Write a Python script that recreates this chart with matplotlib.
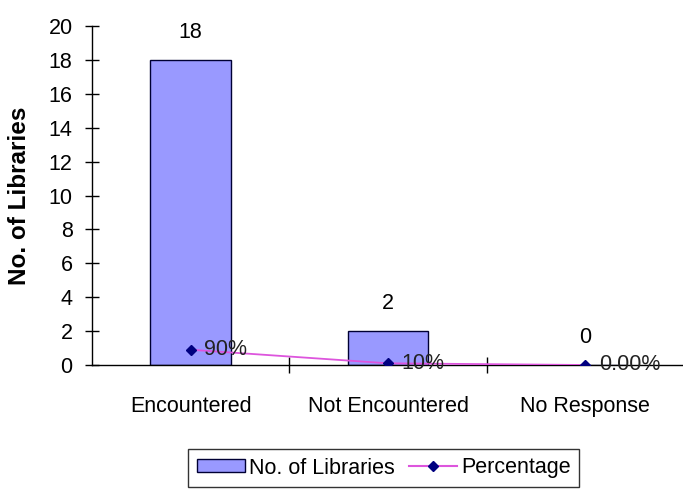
import matplotlib
matplotlib.use("Agg")
import matplotlib.pyplot as plt
from matplotlib.lines import Line2D
from matplotlib.patches import Patch

plt.rcParams['font.family'] = ['Liberation Sans', 'DejaVu Sans']
fs = 15.5

categories = ["Encountered", "Not Encountered", "No Response"]
libraries = [18, 2, 0]
percentage = [0.90, 0.10, 0.0]
pct_labels = ["90%", "10%", "0.00%"]
yticks = [0, 2, 4, 6, 8, 10, 12, 14, 16, 18, 20]

fig = plt.figure(figsize=(6.83, 4.91), dpi=100)
L, R, T, B = 92, 684, 26, 365
ax = fig.add_axes([L/683, (491-B)/491, (R-L)/683, (B-T)/491])

x = list(range(len(categories)))
ax.bar(x, libraries, width=0.41, color="#9999FF", edgecolor="#000033", linewidth=1.0, zorder=2)
ax.plot(x, percentage, color="#DD55DD", linewidth=1.3, marker="D", markersize=5,
        markerfacecolor="#000080", markeredgecolor="#000080", zorder=3)

for xi, v in zip(x, libraries):
    ax.text(xi, v + 1.0, str(v), ha="center", va="bottom", fontsize=fs)
for xi, v, lab in zip(x, percentage, pct_labels):
    ax.text(xi + 0.07, v, lab, ha="left", va="center", fontsize=fs, color="#222222", zorder=4)

ax.set_xlim(-0.5, 2.5)
ax.set_ylim(0, 20)
ax.set_yticks(yticks)
ax.set_yticklabels([str(t) for t in yticks], fontsize=fs)
ax.set_xticks([0.5, 1.5])
ax.set_xticklabels([])
ax.tick_params(axis="x", direction="inout", length=12, width=1)
ax.tick_params(axis="y", direction="inout", length=10, width=1, pad=9)
for xi, c in zip(x, categories):
    ax.text(xi, -1.8, c, ha="center", va="top", fontsize=fs)

ax.spines["top"].set_visible(False)
ax.spines["right"].set_visible(False)
ax.spines["left"].set_linewidth(1)
ax.spines["bottom"].set_linewidth(1)
ax.spines["bottom"].set_clip_on(False)

ax.set_ylabel("No. of Libraries", fontsize=17.5, fontweight="bold")
ax.yaxis.set_label_coords(-(L - 31)/(R - L), 0.5)

handles = [Patch(facecolor="#9999FF", edgecolor="#000033", label="No. of Libraries"),
           Line2D([0], [0], color="#DD55DD", marker="D", markersize=5,
                  markerfacecolor="#000080", markeredgecolor="#000080", label="Percentage")]
leg = fig.legend(handles=handles, loc="center", bbox_to_anchor=(383.5/683, 1 - 468/491),
                 ncol=2, fontsize=fs, frameon=True, fancybox=False, edgecolor="black",
                 handlelength=2.23, handleheight=0.55, handletextpad=0.2, columnspacing=0.65,
                 borderpad=0.4, borderaxespad=0)
leg.get_frame().set_linewidth(1)

fig.savefig("out.png", dpi=100)
